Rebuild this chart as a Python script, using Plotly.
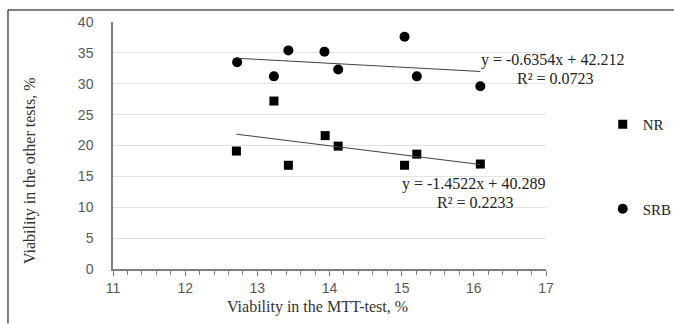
import plotly.graph_objects as go

# Data
mtt_nr = [12.71, 13.23, 13.43, 13.94, 14.12, 15.04, 15.21, 16.09]
other_nr = [19.1, 27.2, 16.8, 21.6, 19.9, 16.8, 18.6, 17.0]
mtt_srb = [12.72, 13.23, 13.43, 13.93, 14.12, 15.04, 15.21, 16.09]
other_srb = [33.5, 31.2, 35.4, 35.2, 32.3, 37.6, 31.2, 29.6]

nr_slope, nr_intercept, nr_r2 = -1.4522, 40.289, 0.2233
srb_slope, srb_intercept, srb_r2 = -0.6354, 42.212, 0.0723

x_ticks = [11, 12, 13, 14, 15, 16, 17]
y_ticks = [0, 5, 10, 15, 20, 25, 30, 35, 40]

serif = "Liberation Serif, Times New Roman, serif"
sans = "Liberation Sans, Arial, sans-serif"

fig = go.Figure()

fig.add_trace(go.Scatter(
    x=mtt_nr, y=other_nr, mode="markers", name="NR",
    marker=dict(symbol="square", size=9, color="black"),
    legendgroup="nr",
))
fig.add_trace(go.Scatter(
    x=mtt_srb, y=other_srb, mode="markers", name="SRB",
    marker=dict(symbol="circle", size=10, color="black"),
    legendgroup="srb",
))

def trend(xs, slope, intercept):
    x0, x1 = min(xs), max(xs)
    return [x0, x1], [slope * x0 + intercept, slope * x1 + intercept]

tx, ty = trend(mtt_srb, srb_slope, srb_intercept)
fig.add_trace(go.Scatter(x=tx, y=ty, mode="lines", showlegend=False,
                         line=dict(color="#404040", width=1), hoverinfo="skip"))
tx, ty = trend(mtt_nr, nr_slope, nr_intercept)
fig.add_trace(go.Scatter(x=tx, y=ty, mode="lines", showlegend=False,
                         line=dict(color="#404040", width=1), hoverinfo="skip"))

def eq(slope, intercept):
    sign = "+" if intercept >= 0 else "-"
    return f"y = {slope:.4f}x {sign} {abs(intercept):.3f}"

ann_font = dict(family=serif, size=16, color="#222222")
annotations = [
    dict(x=1.014, y=0.846, xref="paper", yref="paper", text=eq(srb_slope, srb_intercept),
         showarrow=False, font=ann_font, xanchor="center", yanchor="middle"),
    dict(x=1.021, y=0.773, xref="paper", yref="paper", text=f"R² = {srb_r2:.4f}",
         showarrow=False, font=ann_font, xanchor="center", yanchor="middle"),
    dict(x=15.99, y=13.8, text=eq(nr_slope, nr_intercept), showarrow=False, font=ann_font,
         xanchor="center", yanchor="middle"),
    dict(x=16.02, y=10.75, text=f"R² = {nr_r2:.4f}", showarrow=False, font=ann_font,
         xanchor="center", yanchor="middle"),
    dict(x=0.472, y=-0.154, xref="paper", yref="paper", text="Viability in the MTT-test, %",
         showarrow=False, font=dict(family=serif, size=16, color="#333333"),
         xanchor="center", yanchor="middle"),
    dict(x=-0.192, y=0.40, xref="paper", yref="paper", text="Viability in the other tests, %",
         showarrow=False, textangle=-90, font=dict(family=serif, size=16, color="#333333"),
         xanchor="center", yanchor="middle"),
]

shapes = [
    dict(type="line", xref="paper", yref="paper", x0=-0.2425, x1=1.30, y0=1.0486, y1=1.0486,
         line=dict(color="black", width=1)),
    dict(type="line", xref="paper", yref="paper", x0=-0.2425, x1=-0.2425, y0=1.0486, y1=-0.22,
         line=dict(color="black", width=1)),
]

fig.update_layout(
    width=674, height=324,
    margin=dict(l=113, r=128, t=22, b=55, autoexpand=False),
    paper_bgcolor="white", plot_bgcolor="white",
    annotations=annotations, shapes=shapes,
    legend=dict(x=1.131, y=0.652, xanchor="left", yanchor="top",
                font=dict(family=serif, size=15, color="#222222"),
                tracegroupgap=62, itemwidth=30, bgcolor="rgba(0,0,0,0)"),
    xaxis=dict(range=[11, 17], tickmode="array", tickvals=x_ticks,
               showgrid=False, zeroline=False,
               showline=True, linecolor="#7f7f7f", linewidth=1.5,
               ticks="outside", ticklen=5, tickcolor="#7f7f7f",
               minor=dict(dtick=0.2, ticks="outside", ticklen=4, tickcolor="#7f7f7f"),
               tickfont=dict(family=sans, size=14, color="#595959")),
    yaxis=dict(range=[0, 40], tickmode="array", tickvals=y_ticks,
               showgrid=True, gridcolor="#e3e3e3", gridwidth=1, zeroline=False,
               showline=True, linecolor="#7f7f7f", linewidth=1.5,
               ticks="", ticklabelstandoff=15,
               tickfont=dict(family=sans, size=14, color="#595959")),
)

fig.write_html("out.html", config={"displayModeBar": False},
               post_script="document.body.style.margin='0';")
